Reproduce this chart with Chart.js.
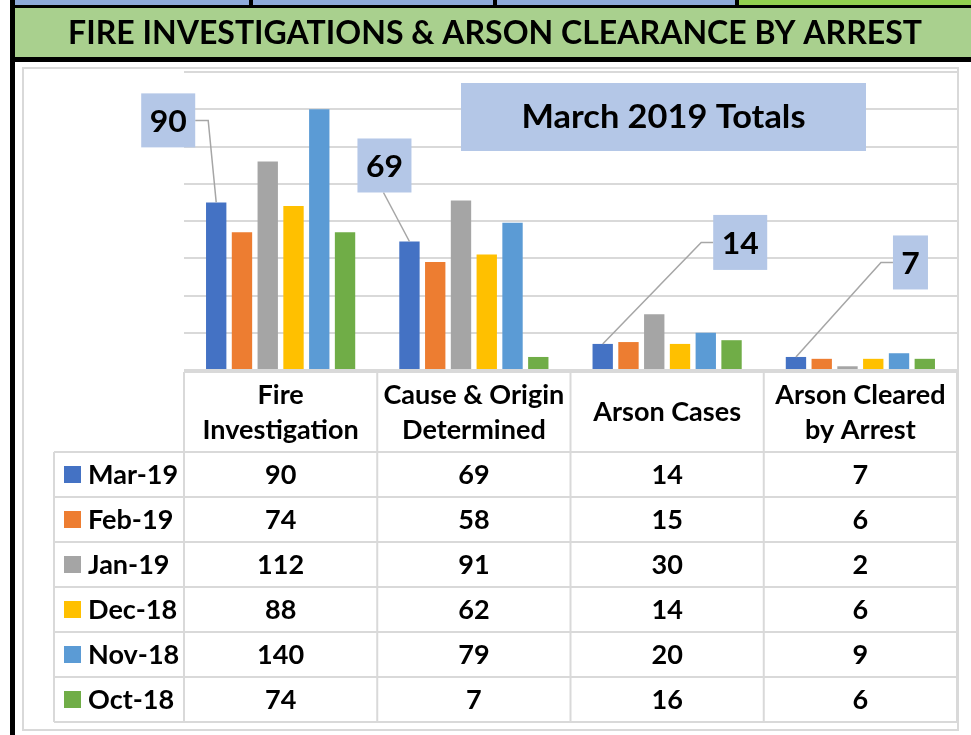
<!DOCTYPE html>
<html><head><meta charset="utf-8">
<script src="https://cdn.jsdelivr.net/npm/chart.js@4/dist/chart.umd.min.js"></script>
<style>html,body{margin:0;padding:0;background:#fff;overflow:hidden}canvas{display:block}</style>
</head><body>
<canvas id="c" width="971" height="735"></canvas>
<script>
// ---- data ----
const categories = [['Fire','Investigation'],['Cause & Origin','Determined'],['Arson Cases'],['Arson Cleared','by Arrest']];
const seriesNames = ['Mar-19','Feb-19','Jan-19','Dec-18','Nov-18','Oct-18'];
const mar19 = [90, 69, 14, 7];
const feb19 = [74, 58, 15, 6];
const jan19 = [112, 91, 30, 2];
const dec18 = [88, 62, 14, 6];
const nov18 = [140, 79, 20, 9];
const oct18 = [74, 7, 16, 6];
const seriesData = [mar19, feb19, jan19, dec18, nov18, oct18];
const seriesColors = ['#4472C4','#ED7D31','#A5A5A5','#FFC000','#5B9BD5','#70AD47'];
const yMin = 0, yMax = 160, yStep = 20;
const chartTitle = 'FIRE INVESTIGATIONS & ARSON CLEARANCE BY ARREST';
const boxTitle = 'March 2019 Totals';
// callouts for the Mar-19 series: box centre offset from the bar top, box size, leader side
const callouts = [
  {dx:-48, dy:-82, w:54, h:54, side:'right'},
  {dx:-25, dy:-76, w:54, h:54, side:'bottom'},
  {dx:137.5, dy:-101.5, w:54, h:55, side:'left'},
  {dx:114.5, dy:-94.5, w:35, h:54, side:'left'}
];

const FONT = 'Lato, "Noto Sans", sans-serif';
function txt(ctx, s, x, cy, size, align, targetW, k){
  ctx.save();
  ctx.font = 'bold ' + size + 'px ' + FONT;
  ctx.fillStyle = '#000';
  ctx.textBaseline = 'alphabetic';
  const base = cy + size*0.36;
  let sx = k || 1;
  if (targetW) sx = targetW / ctx.measureText(s).width;
  ctx.translate(x, base); ctx.scale(sx, 1);
  ctx.textAlign = align; ctx.fillText(s, 0, 0);
  ctx.restore();
}
function line(ctx, x1, y1, x2, y2){ctx.beginPath();ctx.moveTo(x1,y1);ctx.lineTo(x2,y2);ctx.stroke();}

const decor = {
  id:'decor',
  beforeDraw(chart){
    const ctx = chart.ctx;
    ctx.save();
    ctx.fillStyle = '#fff'; ctx.fillRect(0,0,chart.width,chart.height);
    ctx.fillStyle = '#8eaadb'; ctx.fillRect(15,0,722,5);
    ctx.fillStyle = '#92d050'; ctx.fillRect(737,0,234,5);
    ctx.fillStyle = '#000';
    [249,493,735].forEach(x=>ctx.fillRect(x,0,4,5));
    ctx.fillStyle = '#000'; ctx.fillRect(10,5,961,57);
    ctx.fillStyle = '#a9d08e'; ctx.fillRect(15,8,956,49);
    ctx.fillStyle = '#000'; ctx.fillRect(10,0,5,735);
    ctx.strokeStyle = '#d9d9d9'; ctx.lineWidth = 2;
    ctx.strokeRect(23,68,935,662);
    ctx.restore();
    txt(ctx, chartTitle, 495, 32, 32, 'center', 854);
  },
  afterDraw(chart){
    const ctx = chart.ctx;
    const ca = chart.chartArea;
    const n = categories.length;
    const cw = (ca.right - ca.left)/n;
    ctx.save();
    ctx.fillStyle = '#b4c7e7';
    ctx.fillRect(461,83,405,68);
    ctx.restore();
    txt(ctx, boxTitle, 663.5, 116.5, 32, 'center', 284);
    const tTop = ca.bottom + 2, hdrH = 80, rowH = 45, legLeft = 54;
    const tBot = tTop + hdrH + rowH*seriesNames.length;
    ctx.save();
    ctx.strokeStyle = '#d9d9d9'; ctx.lineWidth = 2;
    line(ctx, ca.left, tTop, ca.right, tTop);
    for (let r=0; r<=seriesNames.length; r++){
      const y = tTop + hdrH + r*rowH;
      line(ctx, legLeft, y, ca.right, y);
    }
    line(ctx, legLeft, tTop+hdrH, legLeft, tBot);
    for (let c=0; c<=n; c++){
      const x = ca.left + c*cw;
      line(ctx, x, tTop, x, tBot);
    }
    ctx.restore();
    const TS = 26, TK = 1.04;
    categories.forEach((lab,i)=>{
      const cx = chart.scales.x.getPixelForValue(i);
      const cy = tTop + hdrH/2;
      if (lab.length === 1) txt(ctx, lab[0], cx, cy, TS, 'center', 0, TK);
      else { txt(ctx, lab[0], cx, cy-17.5, TS, 'center', 0, TK); txt(ctx, lab[1], cx, cy+17.5, TS, 'center', 0, TK); }
    });
    seriesNames.forEach((name,k)=>{
      const cy = tTop + hdrH + rowH*(k+0.5);
      ctx.save(); ctx.fillStyle = seriesColors[k]; ctx.fillRect(64, cy-8.5, 17, 17); ctx.restore();
      txt(ctx, name, 88, cy, TS, 'left', 0, TK);
      seriesData[k].forEach((v,i)=>{
        txt(ctx, String(v), chart.scales.x.getPixelForValue(i), cy, TS, 'center', 0, TK);
      });
    });
    const meta = chart.getDatasetMeta(0);
    callouts.forEach((co,i)=>{
      const bar = meta.data[i];
      const bx = bar.x, by = bar.y;
      const cx = bx + co.dx, cy = by + co.dy;
      const l = cx - co.w/2, r = cx + co.w/2, t = cy - co.h/2, b = cy + co.h/2;
      ctx.save();
      ctx.strokeStyle = '#a6a6a6'; ctx.lineWidth = 1.5;
      ctx.beginPath();
      if (co.side === 'right'){ ctx.moveTo(r, cy); ctx.lineTo(r+13, cy); }
      else if (co.side === 'left'){ ctx.moveTo(l, cy); ctx.lineTo(l-12, cy); }
      else { ctx.moveTo(cx-1, b); }
      ctx.lineTo(bx, by);
      ctx.stroke();
      ctx.fillStyle = '#b4c7e7'; ctx.fillRect(l, t, co.w, co.h);
      ctx.restore();
      txt(ctx, String(mar19[i]), cx, cy, 31, 'center', 0, 1.03);
    });
  }
};

new Chart(document.getElementById('c').getContext('2d'), {
  type: 'bar',
  data: {
    labels: categories.map(c=>c.join(' ')),
    datasets: seriesNames.map((name,k)=>({
      label: name, data: seriesData[k], backgroundColor: seriesColors[k],
      borderWidth: 0, barPercentage: 0.79, categoryPercentage: 0.8
    }))
  },
  options: {
    responsive: false, animation: false, devicePixelRatio: 1,
    layout: {padding: {left: 184, right: 14, top: 72, bottom: 365}},
    plugins: {legend: {display: false}, tooltip: {enabled: false}, title: {display: false}},
    scales: {
      x: {ticks: {display: false}, grid: {display: false, drawTicks: false}, border: {display: false}},
      y: {min: yMin, max: yMax, ticks: {display: false, stepSize: yStep},
          grid: {color: '#d9d9d9', lineWidth: 2, drawTicks: false}, border: {display: false}}
    }
  },
  plugins: [decor]
});
</script>
</body></html>
